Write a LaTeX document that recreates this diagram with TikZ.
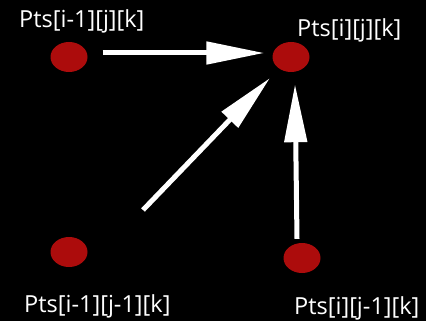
\documentclass[tikz,border=0pt]{standalone}
\usepackage{fontspec}
\setmainfont{Open Sans}
\usetikzlibrary{shapes.geometric,arrows.meta}
\definecolor{dotred}{RGB}{172,12,12}
\begin{document}
\begin{tikzpicture}[x=1pt,y=-1pt,
  dot/.style={ellipse,fill=dotred,draw=none,minimum width=37pt,minimum height=30pt,inner sep=0pt},
  lbl/.style={text=white,font=\fontsize{23.5pt}{28pt}\selectfont,inner sep=0pt,anchor=base west},
  arr/.style={white,line width=5pt,-{Triangle[length=58pt,width=22pt]}}]
  % black canvas
  \fill[black] (0,0) rectangle (426,321);
  \useasboundingbox (0,0) rectangle (426,321);
  % grid points
  \node[dot] (pa) at (69,57) {};
  \node[dot] (pb) at (291,57) {};
  \node[dot] (pc) at (69,252) {};
  \node[dot] (pd) at (302,258) {};
  % labels
  \node[lbl] (la) at (19,28) {Pts[i-1][j][k]};
  \node[lbl] (lb) at (297,37) {Pts[i][j][k]};
  \node[lbl] (lc) at (24,312) {Pts[i-1][j-1][k]};
  \node[lbl] (ld) at (294,314) {Pts[i][j-1][k]};
  % arrows towards Pts[i][j][k]
  \draw[arr] ([shift={(15pt,4pt)}]pa.east) -- ([shift={(-8pt,4pt)}]pb.west);
  \draw[arr] ([shift={(74pt,42pt)}]pc.center) -- ([shift={(-21pt,-21pt)}]pb.center);
  \draw[arr] ([shift={(-5pt,4pt)}]pd.north) -- ([shift={(4pt,-12pt)}]pb.south);
\end{tikzpicture}
\end{document}
